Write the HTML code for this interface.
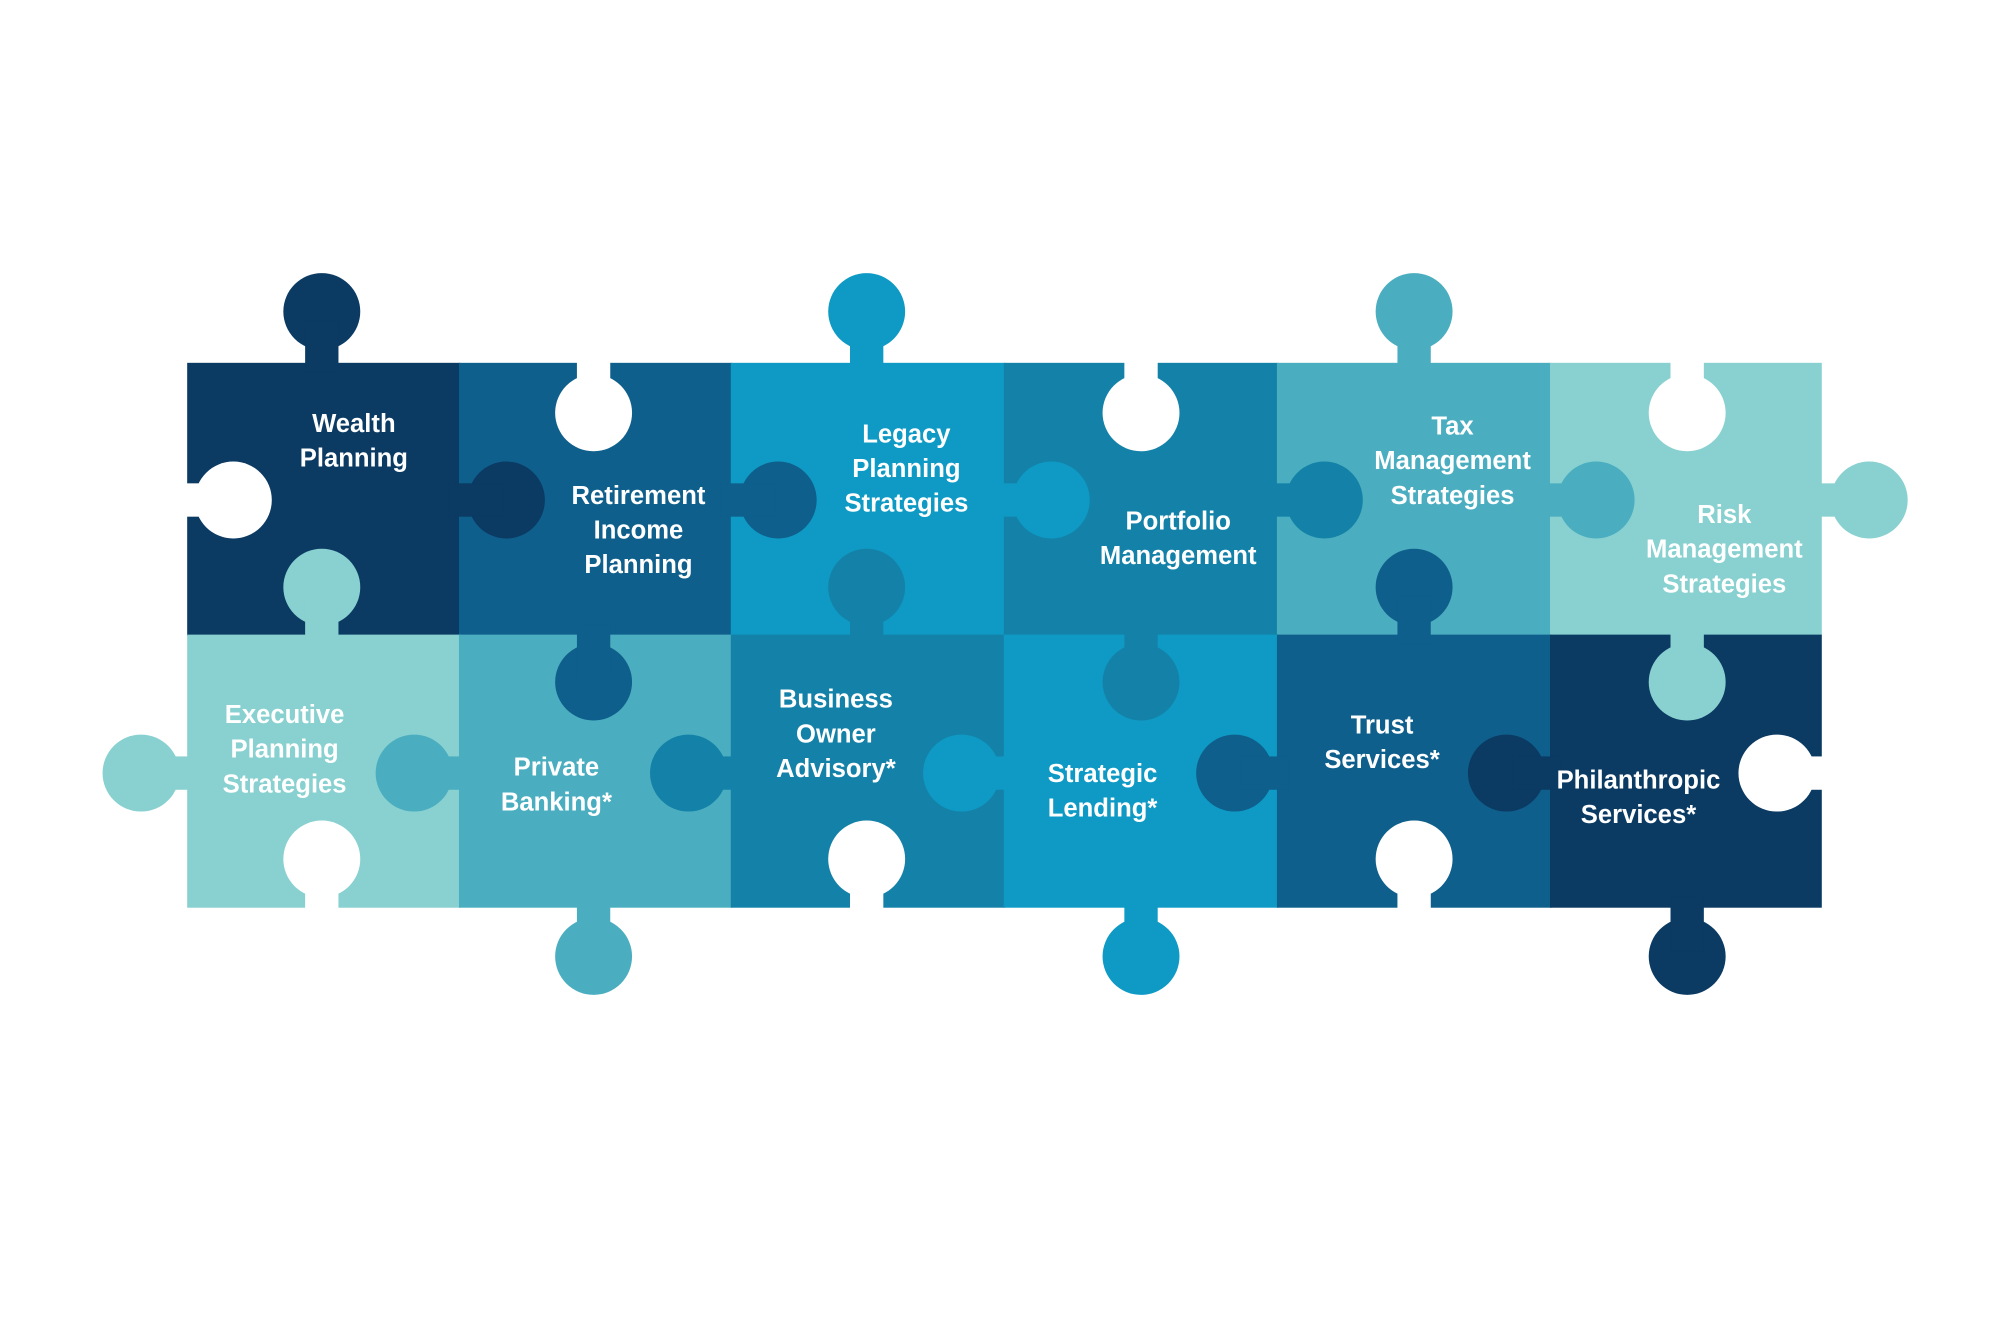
<!DOCTYPE html>
<html><head><meta charset="utf-8"><style>
html,body{margin:0;padding:0;background:#fff;}
svg{display:block;}
text{font-family:"Liberation Sans",sans-serif;font-weight:bold;font-size:20px;fill:#fff;text-anchor:middle;}
</style></head><body>
<svg width="2000" height="1324" viewBox="0 0 1560 1032.7" preserveAspectRatio="none" xmlns="http://www.w3.org/2000/svg">
<rect width="1560" height="1033" fill="#fff"/>
<!-- row 1 -->
<rect x="146" y="283" width="213" height="213" fill="#0b3a63"/>
<rect x="358" y="283" width="213" height="213" fill="#0f5f8c"/>
<rect x="570" y="283" width="214" height="213" fill="#0e9ac4"/>
<rect x="783" y="283" width="214" height="213" fill="#1482a8"/>
<rect x="996" y="283" width="214" height="213" fill="#4aaec0"/>
<rect x="1209" y="283" width="212" height="213" fill="#88d1d0"/>
<!-- row 2 -->
<rect x="146" y="495" width="213" height="213" fill="#88d1d0"/>
<rect x="358" y="495" width="213" height="213" fill="#4aaec0"/>
<rect x="570" y="495" width="214" height="213" fill="#1482a8"/>
<rect x="783" y="495" width="214" height="213" fill="#0e9ac4"/>
<rect x="996" y="495" width="214" height="213" fill="#0f5f8c"/>
<rect x="1209" y="495" width="212" height="213" fill="#0b3a63"/>

<!-- vertical knobs (up/down) -->
<g fill="#0b3a63"><circle cx="251" cy="243" r="30"/><rect x="238" y="250" width="26" height="40"/></g>
<g fill="#0e9ac4"><circle cx="676" cy="243" r="30"/><rect x="663" y="250" width="26" height="40"/></g>
<g fill="#4aaec0"><circle cx="1103" cy="243" r="30"/><rect x="1090" y="250" width="26" height="40"/></g>
<g fill="#88d1d0"><circle cx="251" cy="458" r="30"/><rect x="238" y="465" width="26" height="38"/></g>
<g fill="#1482a8"><circle cx="676" cy="458" r="30"/><rect x="663" y="465" width="26" height="38"/></g>
<g fill="#0f5f8c"><circle cx="1103" cy="458" r="30"/><rect x="1090" y="465" width="26" height="38"/></g>
<g fill="#0f5f8c"><circle cx="463" cy="532" r="30"/><rect x="450" y="488" width="26" height="42"/></g>
<g fill="#1482a8"><circle cx="890" cy="532" r="30"/><rect x="877" y="488" width="26" height="42"/></g>
<g fill="#88d1d0"><circle cx="1316" cy="532" r="30"/><rect x="1303" y="488" width="26" height="42"/></g>
<g fill="#4aaec0"><circle cx="463" cy="746" r="30"/><rect x="450" y="700" width="26" height="42"/></g>
<g fill="#0e9ac4"><circle cx="890" cy="746" r="30"/><rect x="877" y="700" width="26" height="42"/></g>
<g fill="#0b3a63"><circle cx="1316" cy="746" r="30"/><rect x="1303" y="700" width="26" height="42"/></g>
<!-- horizontal knobs -->
<g fill="#0b3a63"><circle cx="395" cy="390" r="30"/><rect x="350" y="377" width="42" height="26"/></g>
<g fill="#0f5f8c"><circle cx="607" cy="390" r="30"/><rect x="562" y="377" width="42" height="26"/></g>
<g fill="#0e9ac4"><circle cx="820" cy="390" r="30"/><rect x="775" y="377" width="42" height="26"/></g>
<g fill="#1482a8"><circle cx="1033" cy="390" r="30"/><rect x="988" y="377" width="42" height="26"/></g>
<g fill="#4aaec0"><circle cx="1245" cy="390" r="30"/><rect x="1201" y="377" width="42" height="26"/></g>
<g fill="#88d1d0"><circle cx="1458" cy="390" r="30"/><rect x="1413" y="377" width="42" height="26"/></g>
<g fill="#88d1d0"><circle cx="110" cy="603" r="30"/><rect x="115" y="590" width="38" height="26"/></g>
<g fill="#4aaec0"><circle cx="323" cy="603" r="30"/><rect x="328" y="590" width="38" height="26"/></g>
<g fill="#1482a8"><circle cx="537" cy="603" r="30"/><rect x="542" y="590" width="38" height="26"/></g>
<g fill="#0e9ac4"><circle cx="750" cy="603" r="30"/><rect x="755" y="590" width="38" height="26"/></g>
<g fill="#0f5f8c"><circle cx="963" cy="603" r="30"/><rect x="968" y="590" width="38" height="26"/></g>
<g fill="#0b3a63"><circle cx="1175" cy="603" r="30"/><rect x="1180" y="590" width="38" height="26"/></g>
<!-- white holes -->
<g fill="#fff">
<circle cx="182" cy="390" r="30"/><rect x="140" y="377" width="38" height="26"/>
<circle cx="463" cy="322" r="30"/><rect x="450" y="276" width="26" height="44"/>
<circle cx="890" cy="322" r="30"/><rect x="877" y="276" width="26" height="44"/>
<circle cx="1316" cy="322" r="30"/><rect x="1303" y="276" width="26" height="44"/>
<circle cx="251" cy="670" r="30"/><rect x="238" y="674" width="26" height="40"/>
<circle cx="676" cy="670" r="30"/><rect x="663" y="674" width="26" height="40"/>
<circle cx="1103" cy="670" r="30"/><rect x="1090" y="674" width="26" height="40"/>
<circle cx="1386" cy="603" r="30"/><rect x="1390" y="590" width="38" height="26"/>
</g>
<!-- labels -->
<text x="276" y="337">Wealth</text><text x="276" y="364">Planning</text>
<text x="498" y="393">Retirement</text><text x="498" y="420">Income</text><text x="498" y="447">Planning</text>
<text x="707" y="345">Legacy</text><text x="707" y="372">Planning</text><text x="707" y="399">Strategies</text>
<text x="919" y="413">Portfolio</text><text x="919" y="440">Management</text>
<text x="1133" y="339">Tax</text><text x="1133" y="366">Management</text><text x="1133" y="393">Strategies</text>
<text x="1345" y="408">Risk</text><text x="1345" y="435">Management</text><text x="1345" y="462">Strategies</text>
<text x="222" y="564">Executive</text><text x="222" y="591">Planning</text><text x="222" y="618">Strategies</text>
<text x="434" y="605">Private</text><text x="434" y="632">Banking*</text>
<text x="652" y="552">Business</text><text x="652" y="579">Owner</text><text x="652" y="606">Advisory*</text>
<text x="860" y="610">Strategic</text><text x="860" y="637">Lending*</text>
<text x="1078" y="572">Trust</text><text x="1078" y="599">Services*</text>
<text x="1278" y="615">Philanthropic</text><text x="1278" y="642">Services*</text>
</svg>
</body></html>
